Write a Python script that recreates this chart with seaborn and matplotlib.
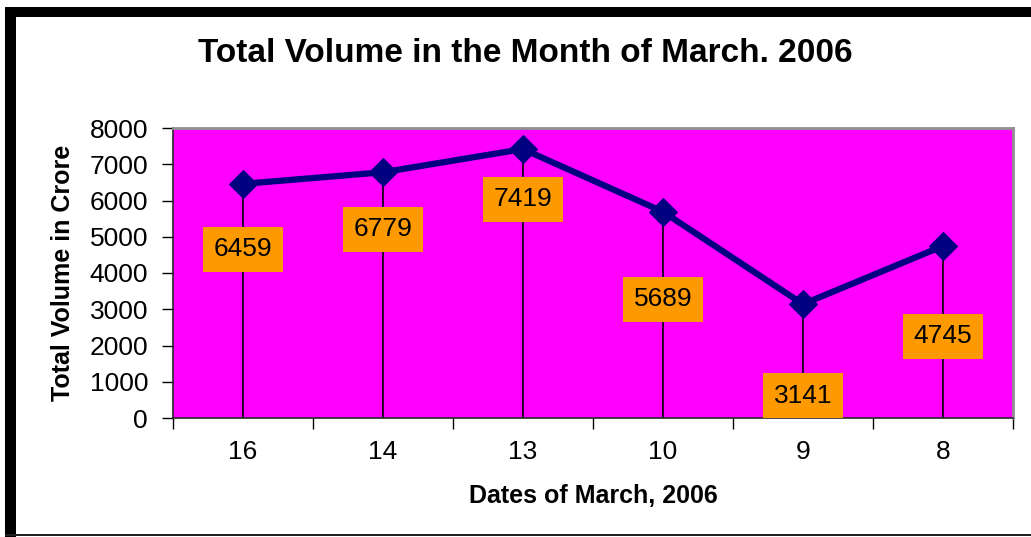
import matplotlib
matplotlib.use("Agg")
import matplotlib.pyplot as plt
import seaborn as sns
import pandas as pd
from matplotlib.patches import Rectangle

# data
dates = ["16", "14", "13", "10", "9", "8"]
volumes = [6459, 6779, 7419, 5689, 3141, 4745]
# how far (in points) each value box sits below its marker
label_drop = [47, 41, 36, 63, 66, 65]

df = pd.DataFrame({"Date": dates, "Volume": volumes})

sns.set_style("ticks")
plt.rcParams["font.family"] = ["Liberation Sans", "DejaVu Sans"]
plt.rcParams["text.color"] = "black"
plt.rcParams["axes.labelcolor"] = "black"
plt.rcParams["xtick.color"] = "black"
plt.rcParams["ytick.color"] = "black"

fig = plt.figure(figsize=(10.31, 5.37), dpi=100)
ax = fig.add_axes([173 / 1031, 119 / 537, 840 / 1031, 290 / 537])
ax.set_facecolor("#FF00FF")

# drop lines from each point to the axis
ax.vlines(range(len(dates)), 0, df["Volume"], color="black", lw=1.2, zorder=2)

sns.lineplot(data=df, x="Date", y="Volume", ax=ax, sort=False,
             color="#000080", lw=4.5, marker="D", markersize=14,
             markeredgecolor="#000080", zorder=3)

for i, v in enumerate(volumes):
    ax.annotate(str(v), (i, v), xytext=(0, -label_drop[i]), textcoords="offset points",
                ha="center", va="center", fontsize=19, color="black", zorder=4,
                bbox=dict(boxstyle="square,pad=0.4", fc="#FF9900", ec="none"))

ax.set_xlim(-0.5, len(dates) - 0.5)
ax.set_ylim(0, 8000)
ax.set_yticks(range(0, 8001, 1000))
ax.tick_params(axis="y", labelsize=19, length=8, width=1, direction="out", pad=10)

# major ticks between categories, labels at the centres
ax.set_xticks([i - 0.5 for i in range(len(dates) + 1)])
ax.set_xticklabels([])
ax.set_xticks(range(len(dates)), minor=True)
ax.set_xticklabels(dates, minor=True, fontsize=19)
ax.tick_params(axis="x", which="major", length=8, width=1)
ax.tick_params(axis="x", which="minor", length=0, pad=16)

for side in ["top", "right"]:
    ax.spines[side].set_visible(True)
    ax.spines[side].set_color("#909090")
    ax.spines[side].set_linewidth(2)
ax.spines["left"].set_linewidth(1.2)
ax.spines["bottom"].set_linewidth(1.2)

ax.set_xlabel("Dates of March, 2006", fontsize=18, fontweight="bold", labelpad=14)
ax.set_ylabel("Total Volume in Crore", fontsize=18, fontweight="bold", labelpad=10)

fig.text(525 / 1031, 1 - 53 / 537, "Total Volume in the Month of March. 2006",
         ha="center", va="center", fontsize=24, fontweight="bold")

# chart frame
fig.patches.append(Rectangle((5 / 1031, 0), 11 / 1031, 530 / 537, transform=fig.transFigure,
                             fc="black", ec="none"))
fig.patches.append(Rectangle((5 / 1031, 520 / 537), 1026 / 1031, 10 / 537, transform=fig.transFigure,
                             fc="black", ec="none"))
fig.patches.append(Rectangle((5 / 1031, 1 / 537), 1026 / 1031, 2 / 537, transform=fig.transFigure,
                             fc="#202020", ec="none"))

fig.savefig("out.png", dpi=100)
